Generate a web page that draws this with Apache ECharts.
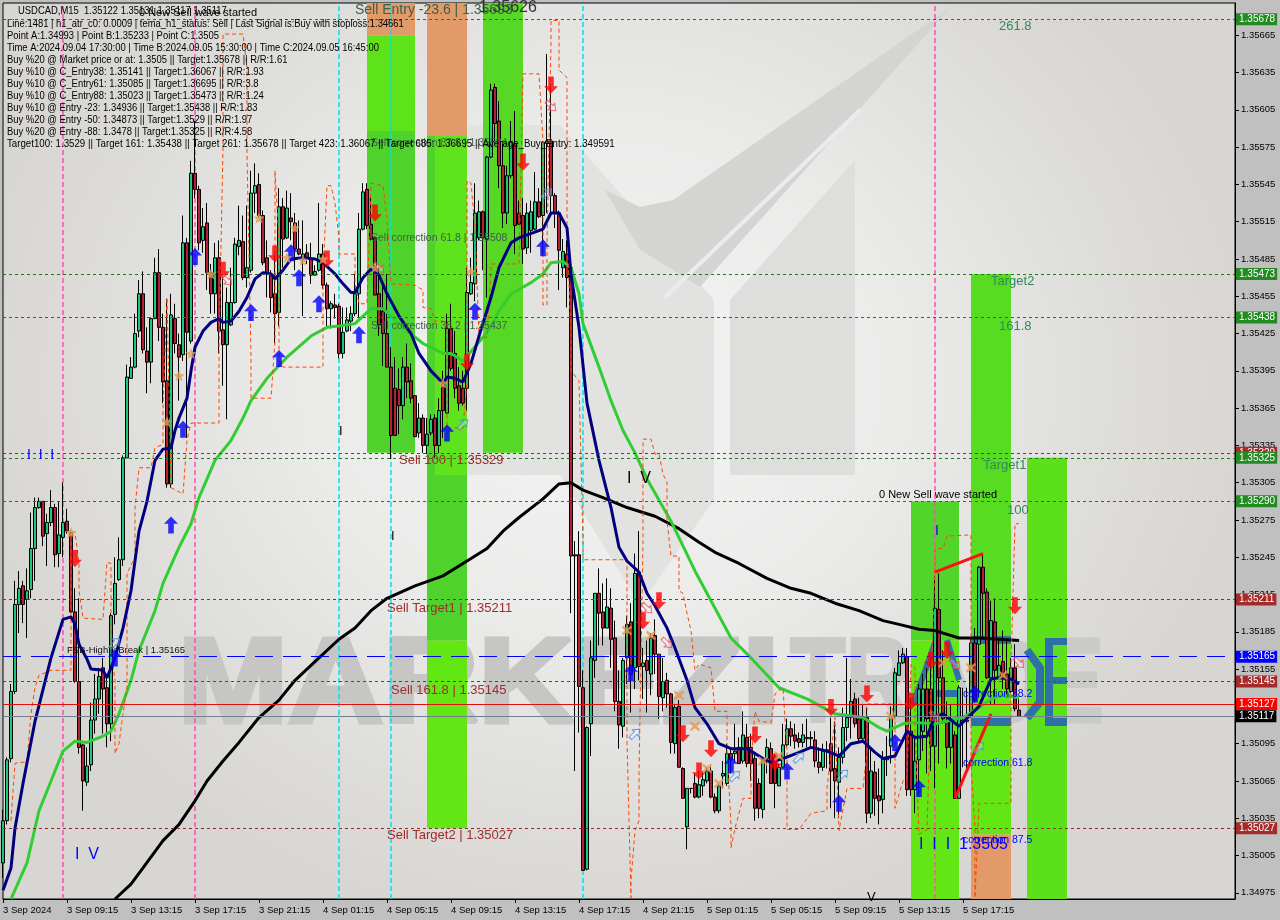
<!DOCTYPE html>
<html><head><meta charset="utf-8">
<script src="https://cdn.jsdelivr.net/npm/echarts@6/dist/echarts.min.js"></script>
<style>
html,body{margin:0;padding:0;background:#c0c0c0;width:1280px;height:920px;overflow:hidden}
#bg{position:absolute;left:3px;top:3px;width:1232px;height:896px;background:radial-gradient(ellipse 52% 62% at 49% 42%,#f4f4f4 0%,#ebebea 45%,#dcdbd8 85%,#d8d6d3 100%)}
#c{position:absolute;left:0;top:0;width:1280px;height:920px}
</style></head><body><div id="bg"></div><div id="c"></div>
<script>
// All prices are stored as points above 1.35000
const opens=[-1,33,83,137,207,222,211,219,252,285,
290,264,273,285,248,261,274,265,201,145,
94,64,78,114,131,156,140,111,199,227,
243,325,389,398,427,457,411,402,437,474,
430,387,304,437,416,408,498,419,554,541,
500,514,474,457,486,428,416,432,450,495,
499,470,476,538,545,520,486,473,457,442,
527,502,518,514,493,485,490,485,472,476,
489,464,445,448,447,409,427,435,441,457,
509,541,513,502,457,443,425,398,381,380,
367,398,387,375,345,357,335,345,357,335,
385,361,429,409,383,381,381,457,465,502,
523,501,567,623,596,560,522,552,578,522,
520,494,508,509,531,520,578,580,536,522,
478,489,478,246,247,140,-6,111,162,216,
201,188,204,180,129,109,164,193,156,233,
157,162,151,182,167,132,146,135,95,125,
75,28,59,63,52,61,65,73,52,41,
69,63,87,87,92,81,100,92,83,63,
42,83,91,84,61,76,94,107,102,99,
96,99,99,98,80,76,90,95,75,64,
84,108,116,131,115,99,116,39,72,53,
50,82,93,117,150,160,165,105,58,82,
105,139,139,93,203,148,114,92,102,51,
113,113,117,176,175,237,217,148,193,148,
161,151,137,156,122];
const closes=[33,82,137,207,220,207,218,252,285,290,
262,273,285,247,263,273,266,201,145,92,
65,77,114,131,149,139,111,198,224,243,
325,390,398,425,457,412,402,437,474,430,
386,304,440,417,406,498,426,554,541,498,
511,474,457,486,427,416,450,450,497,500,
470,478,538,544,520,482,474,454,441,527,
501,526,515,493,489,489,485,472,475,489,
464,445,449,446,409,426,436,441,457,509,
539,512,501,456,432,425,398,343,343,367,
398,386,373,342,357,335,344,356,335,363,
363,429,397,381,369,369,458,466,522,523,
502,567,621,594,560,522,552,579,512,513,
493,522,523,531,519,579,580,536,522,492,
491,470,246,247,141,-7,108,164,216,200,
188,205,179,129,110,162,191,151,232,157,
160,154,180,167,133,145,135,96,124,76,
51,59,59,52,62,66,73,52,41,61,
71,87,82,89,79,102,79,79,43,43,
83,92,63,63,76,94,107,101,97,96,
102,100,100,81,76,89,89,73,65,84,
108,116,129,111,99,115,39,73,51,49,
83,83,117,152,160,167,58,58,81,139,
139,115,93,204,148,115,92,115,51,140,
114,114,176,130,237,216,148,194,154,158,
151,139,156,123,117];
const lows=[-13,30,80,135,184,192,180,212,226,284,
254,238,270,237,237,245,264,200,144,87,
41,61,73,103,119,103,92,97,191,226,
238,325,389,397,422,409,377,385,437,419,
369,301,301,409,371,403,341,417,534,492,
490,460,441,441,409,383,356,431,449,488,
468,462,474,522,518,480,454,442,417,431,
478,501,500,476,488,439,481,465,472,475,
461,430,429,437,405,405,426,427,439,438,
508,509,500,456,423,399,398,324,343,344,
356,373,369,342,341,329,328,343,325,329,
341,361,395,373,363,367,363,456,451,500,
476,454,566,580,542,510,513,550,489,513,
481,489,490,508,518,489,522,522,510,460,
470,446,200,73,104,-7,-7,85,148,174,
174,188,156,121,91,100,143,120,139,146,
131,120,134,151,115,121,124,87,87,76,
51,10,55,51,51,53,63,51,39,39,
59,61,71,81,79,79,76,65,33,35,
35,71,63,43,61,76,92,93,91,92,
92,92,92,76,71,73,75,43,35,35,
79,97,99,108,97,97,31,35,37,30,
39,69,79,116,150,159,53,53,39,55,
89,71,73,59,79,111,75,79,51,51,
76,73,116,128,132,180,147,127,127,147,
139,132,136,121,117];
const highs=[42,84,143,226,234,226,236,281,293,293,
290,280,299,288,290,305,284,266,220,212,
95,92,128,151,156,164,148,200,245,261,
327,400,406,441,468,475,430,438,486,493,
441,453,457,449,425,520,502,564,596,544,
526,530,481,498,500,473,462,478,502,528,
520,528,556,562,554,524,500,476,489,542,
534,540,538,522,516,516,497,498,480,530,
497,466,451,457,449,446,446,447,473,522,
546,546,534,502,478,468,473,414,406,397,
406,417,401,375,369,360,357,360,360,373,
395,441,449,427,398,395,478,486,546,532,
524,568,626,626,612,580,560,596,604,532,
534,530,532,555,542,580,650,626,538,524,
501,500,488,258,266,154,109,178,216,236,
224,228,220,194,154,164,198,208,248,266,
172,178,184,195,167,164,152,136,127,130,
76,59,59,71,73,73,76,76,55,63,
81,95,92,111,100,121,111,103,87,67,
84,99,96,87,79,111,115,113,111,104,
111,115,105,105,92,95,97,116,113,92,
124,164,147,136,132,127,124,92,81,75,
89,101,125,156,170,172,172,132,100,143,
151,156,164,230,232,170,129,127,105,142,
140,140,179,188,238,248,220,210,212,180,
186,179,164,175,131];
const navyLine=[[0,-23],[2,-5],[3,27],[5,63],[8,113],[12,164],[15,195],[17,197],[18,191],[19,175],[21,163],[22,155],[25,154],[26,148],[28,164],[30,188],[32,218],[34,266],[36,290],[38,323],[40,332],[42,333],[43,347],[44,357],[46,373],[47,395],[48,414],[50,427],[52,434],[54,437],[55,434],[57,435],[59,443],[61,454],[63,469],[65,474],[67,473],[68,469],[70,476],[72,485],[75,486],[78,485],[80,482],[83,473],[85,465],[87,458],[88,458],[90,470],[92,477],[94,472],[96,457],[99,439],[102,425],[104,409],[107,395],[110,385],[111,390],[113,389],[115,386],[117,401],[119,423],[122,454],[124,478],[127,498],[129,502],[135,509],[137,522],[139,522],[141,510],[142,473],[144,430],[146,369],[149,323],[152,285],[154,253],[156,242],[159,233],[161,216],[163,206],[166,188],[168,172],[171,146],[173,124],[176,111],[179,95],[182,91],[186,91],[190,83],[192,80],[195,83],[199,88],[202,92],[206,89],[209,85],[212,95],[215,97],[218,88],[220,83],[223,85],[226,105],[228,100],[231,101],[233,117],[235,119],[239,109],[244,125],[247,147],[249,148],[252,147],[254,143]];
const greenLine=[[2,-30],[6,-1],[9,41],[12,65],[15,89],[18,97],[21,96],[25,101],[27,105],[29,119],[32,146],[34,170],[38,202],[40,224],[44,253],[47,272],[49,293],[53,323],[57,339],[60,357],[62,371],[66,389],[71,406],[77,423],[81,430],[84,431],[88,433],[92,445],[95,445],[100,430],[105,417],[110,409],[112,409],[115,403],[120,422],[122,430],[124,443],[127,457],[132,466],[135,473],[137,482],[140,483],[142,478],[144,457],[145,433],[149,398],[152,371],[155,347],[158,329],[161,308],[167,274],[173,234],[178,204],[182,180],[187,164],[194,140],[201,131],[208,119],[215,116],[219,108],[221,105],[225,111],[228,112],[233,111],[240,116],[244,124],[247,131],[250,134],[254,132]];
const blackLine=[[28,-30],[32,-18],[35,-5],[40,17],[44,30],[48,49],[51,65],[55,81],[59,96],[64,116],[69,130],[73,146],[79,164],[84,179],[88,188],[92,202],[96,212],[103,222],[110,230],[115,240],[121,252],[125,266],[129,277],[135,292],[139,304],[142,305],[145,299],[150,293],[156,285],[163,278],[169,268],[174,257],[178,249],[184,240],[191,228],[197,220],[202,216],[208,208],[214,202],[220,194],[224,191],[229,187],[233,186],[239,180],[244,180],[249,179],[254,178]];
const stopLine=[[2,33],[3,79],[4,80],[6,80],[7,119],[8,140],[9,150],[12,154],[17,154],[17,265],[18,265],[19,240],[19,218],[20,196],[25,195],[26,241],[27,240],[27,172],[28,146],[28,87],[29,95],[30,119],[31,140],[31,232],[33,245],[33,285],[34,317],[37,317],[38,333],[40,336],[40,365],[41,454],[42,301],[45,296],[46,339],[47,353],[54,353],[54,414],[55,575],[55,666],[60,666],[61,639],[61,570],[62,406],[62,373],[67,373],[68,419],[68,556],[69,500],[69,403],[70,398],[80,398],[80,473],[81,544],[82,544],[83,530],[84,502],[84,489],[88,489],[88,465],[89,449],[91,449],[92,546],[95,544],[96,518],[97,465],[103,464],[105,460],[105,446],[107,445],[108,435],[110,435],[111,433],[111,357],[111,349],[115,349],[116,387],[116,548],[117,546],[118,510],[119,422],[121,422],[122,476],[122,481],[129,481],[130,634],[134,634],[135,580],[135,489],[135,448],[136,448],[136,500],[137,658],[137,677],[139,677],[139,637],[141,631],[141,510],[142,422],[142,395],[144,387],[145,258],[145,243],[156,243],[156,224],[156,97],[157,-29],[157,-15],[158,25],[159,33],[159,71],[160,258],[160,340],[162,340],[163,328],[164,328],[165,312],[166,305],[166,274],[167,246],[169,246],[169,218],[170,216],[171,200],[172,186],[173,154],[174,159],[177,156],[178,121],[181,121],[181,89],[182,30],[182,11],[183,27],[185,51],[187,51],[187,79],[188,121],[189,113],[192,112],[193,135],[195,140],[196,89],[196,26],[199,26],[202,39],[206,41],[206,59],[208,116],[209,25],[211,59],[215,59],[216,89],[216,127],[222,127],[223,116],[223,43],[225,65],[226,67],[227,159],[228,156],[228,105],[229,22],[231,26],[232,132],[233,240],[233,252],[235,252],[236,262],[242,263],[242,159],[242,79],[243,27],[243,-29],[244,47],[252,47],[252,159],[253,272],[254,272]];
const redSwingA=[[233,233],[245,248]];
const redSwingB=[[238,51],[247,119]];
const blueArrows=[[42,271],[45,348],[48,487],[62,442],[69,405],[72,490],[74,470],[79,449],[89,424],[111,345],[118,443],[135,494],[28,164],[157,152],[182,78],[196,73],[209,47],[223,96],[229,59],[243,135]];
const redArrows=[[18,244],[55,476],[68,489],[81,485],[93,522],[116,402],[130,563],[137,625],[160,194],[164,210],[170,103],[174,73],[177,91],[188,102],[193,80],[207,124],[216,135],[227,129],[232,162],[236,170],[253,206]];
const stars=[[17,265],[41,354],[44,391],[47,409],[52,473],[64,518],[71,486],[73,510],[75,484],[80,485],[93,478],[110,385],[117,475]];
const crosses=[[156,186],[162,182],[169,134],[173,109],[176,75],[179,63],[190,81],[194,85],[222,117],[235,160],[242,156],[250,150]];
const pinkHollow=[[137,608],[56,468],[94,478],[161,204],[166,176],[233,117],[238,159],[254,160]];
const blueHollow=[[28,176],[115,352],[136,538],[158,103],[183,69],[199,84],[210,70],[244,92]];
const greenLevels=[678,473,438,325,290];
const brownLevels=[329,211,145,27];
const breakLevel=165, bidLevel=127, askLevel=117;
const pinkVLines=[15,48,233];
const cyanVLines=[84,97,145];
const yTicks=[665,635,605,575,545,515,485,455,425,395,365,335,305,275,245,215,185,155,125,95,65,35,5,-25];
const xTickLabels=['3 Sep 2024','3 Sep 09:15','3 Sep 13:15','3 Sep 17:15','3 Sep 21:15','4 Sep 01:15','4 Sep 05:15','4 Sep 09:15','4 Sep 13:15','4 Sep 17:15','4 Sep 21:15','5 Sep 01:15','5 Sep 05:15','5 Sep 09:15','5 Sep 13:15','5 Sep 17:15'];
// from bar, to bar, upper price, lower price, colour
const zones=[[91,103,691,665,'#e29a68'],[91,103,665,588,'#5ee21a'],[91,103,588,329,'#50d22c'],
[106,116,691,584,'#e29a68'],[106,116,584,178,'#50d22c'],[108,116,584,311,'#5fe31c'],[106,116,178,27,'#62e614'],
[120,130,691,329,'#56d824'],
[227,239,290,178,'#52d52a'],[227,239,178,-31,'#62e614'],
[242,252,473,178,'#58dc22'],[242,252,178,22,'#62e614'],[242,252,22,-31,'#e29a68'],
[256,266,325,-31,'#5ce01c']];
const RB='#a02c2c',GN='#2e8b57',GY='#3f5f4a';
// text, bar, price, colour, size
const notes=[
['Sell Entry -23.6 | 1.35693',88,685,GY,14],['1.35626',119,687,'#333',16],
['Sell correction 87.5 | 1.35584',92,578,GY,10.5],['Sell correction 61.8 | 1.35508',92,502,GY,10.5],['Sell correction 38.2 | 1.35437',92,431,GY,10.5],
['Sell 100 | 1.35329',99,323,RB,13],['Sell Target1 | 1.35211',96,204,RB,13],['Sell 161.8 | 1.35145',97,138,RB,13],['Sell Target2 | 1.35027',96,21,RB,13],
['261.8',249,672,GN,13],['Target2',247,467,GN,13],['161.8',249,431,GN,13],['Target1',245,319,GN,13],['100',251,283,GN,13],
['FSB-HighToBreak | 1.35165',16,170,'#111',9.5],
['correction 38.2',240,135,'#0000ff',10.5],['correction 61.8',240,79,'#0000ff',10.5],['correction 87.5',240,17,'#0000ff',10.5],
['0 New Sell wave started',34,683,'#000',11],['0 New Sell wave started',219,295,'#000',11],
['I  I  I',6,327,'#0000ff',14],['I  V',18,6,'#0000ff',16],['I  V',156,308,'#000',16],['I',84,346,'#000',13],['I',97,262,'#000',13],['V',216,-29,'#000',13],['I',233,266,'#0000ff',14],
['I  I  I  1.3505',229,14,'#0000ff',16]];
const headerLines=['Line:1481 | h1_atr_c0: 0.0009 | tema_h1_status: Sell | Last Signal is:Buy with stoploss:1.34661',
'Point A:1.34993 | Point B:1.35233 | Point C:1.3505',
'Time A:2024.09.04 17:30:00 | Time B:2024.09.05 15:30:00 | Time C:2024.09.05 16:45:00',
'Buy %20 @ Market price or at: 1.3505 || Target:1.35678 || R/R:1.61',
'Buy %10 @ C_Entry38: 1.35141 || Target:1.36067 || R/R:1.93',
'Buy %10 @ C_Entry61: 1.35085 || Target:1.36695 || R/R:3.8',
'Buy %10 @ C_Entry88: 1.35023 || Target:1.35473 || R/R:1.24',
'Buy %10 @ Entry -23: 1.34936 || Target:1.35438 || R/R:1.83',
'Buy %20 @ Entry -50: 1.34873 || Target:1.3529 || R/R:1.97',
'Buy %20 @ Entry -88: 1.3478 || Target:1.35325 || R/R:4.58',
'Target100: 1.3529 || Target 161: 1.35438 || Target 261: 1.35678 || Target 423: 1.36067 || Target 685: 1.36695 || Average_Buy_Entry: 1.349591'];
const titleLine='USDCAD,M15  1.35122 1.35131 1.35117 1.35117';

const NARROW='"Liberation Sans",sans-serif';
const px=p=>+(1.35+p/100000).toFixed(5);
const barCount=309;
const cats=Array.from({length:barCount},(_,i)=>(i%16===0&&i/16<xTickLabels.length)?xTickLabels[i/16]:'');
const pairs=a=>a.map(d=>[d[0],px(d[1])]);
const ARROW='path://M5 0L10 6.5L7 6.5L7 15L3 15L3 6.5L0 6.5Z';
const STAR='path://M5 0L6.4 3.4L10 3.8L7.3 6.2L8.1 10L5 8L1.9 10L2.7 6.2L0 3.8L3.6 3.4Z';
const CROSS='path://M1 0L5 3L9 0L10 2L7 5L10 8L9 10L5 7L1 10L0 8L3 5L0 2Z';

function hLine(v,color,type,width,tagColor,txtColor){
  return [{coord:[0,px(v)],lineStyle:{color,type,width},
    label:{show:true,position:'end',distance:1,formatter:px(v).toFixed(5),color:txtColor||'#fff',backgroundColor:tagColor,fontFamily:NARROW,fontSize:10,padding:[1,2,1,3],lineHeight:10}},{coord:[308,px(v)]}];
}
const vSeries=(i,color)=>({type:'line',name:'v'+i,data:[[i,1.3497],[i,1.35691]],z:1.7,symbol:'none',silent:true,lineStyle:{color,type:[5,3],width:1.5}});
const levels=[];
brownLevels.forEach(v=>levels.push(hLine(v,'#952a2a',[3,3],1,'#a52a2a')));
greenLevels.forEach(v=>levels.push(hLine(v,'#1f7a1f',[3,3],1,'#228b22')));
levels.push(hLine(breakLevel,'#0000ff',[18,10],1.2,'#0000ff'));
levels.push(hLine(bidLevel,'#e01010','solid',1,'#ff0000'));
levels.push(hLine(askLevel,'#708090','solid',1,'#000000'));

const W=(x,y,t,o={},sx=0.82)=>({type:'text',x,y,scaleX:sx,z:8,silent:true,style:Object.assign({text:t,fill:'#000',font:'11.5px '+NARROW,textVerticalAlign:'middle'},o)});
const poly=(pts,fill,z=-5)=>({type:'polygon',z,silent:true,shape:{points:pts},style:{fill}});
const pl=(pts,stroke,lw,z=1.3)=>({type:'polyline',z,silent:true,shape:{points:pts},style:{stroke,lineWidth:lw,fill:null}});
const rc=(x,y,w,h,fill)=>({type:'rect',z:1.3,silent:true,shape:{x,y,width:w,height:h},style:{fill}});
const BL='#3070a8';
const decor=[
 poly([[432,150],[457,125],[560,125],[714,300],[714,500],[640,605],[575,500],[560,475],[432,475]],'#e2e2e1'),
 poly([[951,7],[673,200],[640,207],[605,190],[640,250],[700,287]],'#d4d4d2',-4),
 poly([[855,160],[855,475],[730,475],[730,300]],'#dededd',-4),
 pl([[860,110],[665,297]],'#ececec',4,-3),
 {type:'text',z:-2,silent:true,x:178,y:749,scaleX:1.1,style:{text:'MARKEZI',font:'bold 120px "Liberation Sans"',fill:'#c6c6c5',stroke:'#c6c6c5',lineWidth:5,textVerticalAlign:'bottom'}},
 {type:'text',z:-2,silent:true,x:790,y:749,scaleX:0.76,style:{text:'TRADE',font:'bold 120px "Liberation Sans"',fill:'#cacac9',stroke:'#cacac9',lineWidth:3,textVerticalAlign:'bottom'}},
 rc(1045,638,8,88,BL),rc(1045,638,22,7,BL),rc(1045,677,22,7,BL),rc(1045,718,22,8,BL),
 rc(971,636,40,8,BL),rc(971,718,40,8,BL),
 pl([[1027,650],[1040,668],[1040,702],[1027,718]],BL,8),
 pl([[936,640],[913,705]],BL,6),pl([[947,640],[959,680]],BL,6),rc(925,690,34,7,BL),
 W(18,11,titleLine),
 ...headerLines.map((t,k)=>k===10?W(7,24+12*k,t,{font:'11px '+NARROW},0.882):W(7,24+12*k,t))
];

const chart=echarts.init(document.getElementById('c'),null,{renderer:'canvas'});
const scatter=(name,data,symbol,size,style,rot)=>({type:'scatter',name,data:pairs(data),symbol,symbolSize:size,symbolRotate:rot||0,itemStyle:style,z:5,silent:true,animation:false});
chart.setOption({
 animation:false,backgroundColor:'transparent',
 grid:{left:3,top:3,width:1232,height:896,show:true,borderColor:'#000',borderWidth:1,backgroundColor:'transparent',outerBoundsMode:'none',containLabel:false},
 xAxis:{type:'category',data:cats,boundaryGap:false,
   axisLine:{lineStyle:{color:'#000'}},
   axisTick:{show:true,length:4,interval:(i)=>i%16===0&&i<=240,lineStyle:{color:'#000'}},
   axisLabel:{interval:(i)=>i%16===0&&i<=240,align:'left',margin:6,color:'#000',fontFamily:NARROW,fontSize:9.5,hideOverlap:false},
   splitLine:{show:false}},
 yAxis:{type:'value',position:'right',min:1.3497,max:1.35691,scale:true,
   axisLine:{show:true,lineStyle:{color:'#000'}},
   axisTick:{show:true,length:4,customValues:yTicks.map(px),lineStyle:{color:'#000'}},
   axisLabel:{customValues:yTicks.map(px),formatter:v=>v.toFixed(5),margin:6,color:'#000',fontFamily:NARROW,fontSize:9.5},
   splitLine:{show:false}},
 graphic:{elements:decor},
 series:[
  {type:'line',name:'zones',data:[],z:1,silent:true,
   markArea:{silent:true,data:zones.map(z=>[{coord:[z[0],px(z[2])],itemStyle:{color:z[4],opacity:1}},{coord:[z[1],px(z[3])]}])}},
  {type:'line',name:'levels',data:[],z:1.6,silent:true,
   markLine:{silent:true,symbol:'none',animation:false,data:levels}},
  ...pinkVLines.map(i=>vSeries(i,'#ff4fa8')),
  ...cyanVLines.map(i=>vSeries(i,'#00e0f0')),
  {type:'candlestick',name:'USDCAD',z:2,barWidth:3,silent:true,
   data:opens.map((o,i)=>[px(o),px(closes[i]),px(lows[i]),px(highs[i])]),
   itemStyle:{color:'#1ec878',color0:'#b22234',borderColor:'#000',borderColor0:'#000',borderColorDoji:'#000',borderWidth:1}},
  {type:'line',name:'slow',data:pairs(blackLine),z:3,symbol:'none',silent:true,lineStyle:{color:'#000',width:3}},
  {type:'line',name:'mid',data:pairs(greenLine),z:3,symbol:'none',silent:true,lineStyle:{color:'#32cd32',width:3}},
  {type:'line',name:'fast',data:pairs(navyLine),z:3.2,symbol:'none',silent:true,lineStyle:{color:'#000080',width:3}},
  {type:'line',name:'stop',data:pairs(stopLine),z:3.1,symbol:'none',silent:true,lineStyle:{color:'#ff4500',width:1,type:[4,3]}},
  {type:'line',name:'swingA',data:pairs(redSwingA),z:3.3,symbol:'none',silent:true,lineStyle:{color:'#ff1010',width:3}},
  {type:'line',name:'swingB',data:pairs(redSwingB),z:3.3,symbol:'none',silent:true,lineStyle:{color:'#ff1010',width:3}},
  scatter('buy',blueArrows,ARROW,[14,17],{color:'#0000ff'}),
  scatter('sell',redArrows,ARROW,[14,17],{color:'#ff0000'},180),
  scatter('star',stars,STAR,11,{color:'#dba35c'}),
  scatter('cross',crosses,CROSS,10,{color:'#e8964e'}),
  scatter('pink',pinkHollow,ARROW,[9,13],{color:'rgba(255,255,255,0.3)',borderColor:'#f0405a',borderWidth:1},-135),
  scatter('bluehollow',blueHollow,ARROW,[9,13],{color:'rgba(255,255,255,0.3)',borderColor:'#3f8fe0',borderWidth:1},-45),
  {type:'line',name:'notes',data:[],z:6,silent:true,
   markPoint:{silent:true,animation:false,data:notes.map(n=>({coord:[n[1],px(n[2])],symbol:'circle',symbolSize:0,
     label:{show:true,position:'right',distance:0,formatter:n[0],color:n[3],fontSize:n[4],fontFamily:NARROW}}))}}
 ]
});
</script></body></html>
